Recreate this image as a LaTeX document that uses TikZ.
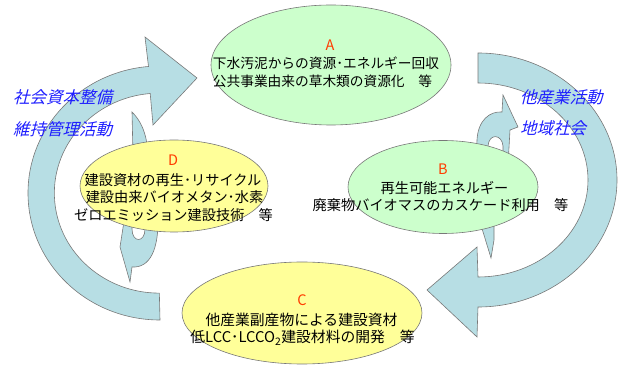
\documentclass[tikz,border=0pt]{standalone}
\usepackage{fontspec}
\setmainfont{Noto Sans CJK JP}
\newfontfamily\slantjp[FakeSlant=0.25]{Noto Sans CJK JP}
\usetikzlibrary{shapes.geometric}
\definecolor{arrowfill}{RGB}{183,222,228}
\definecolor{edgegray}{RGB}{120,120,120}
\definecolor{greenfill}{RGB}{204,255,204}
\definecolor{yellowfill}{RGB}{255,255,153}
\definecolor{letterred}{RGB}{255,60,0}
\definecolor{textblue}{RGB}{30,30,255}
\begin{document}
\begin{tikzpicture}[x=1pt,y=-1pt,
  bigarrow/.style={fill=arrowfill, draw=edgegray, line width=0.6pt, line join=miter},
  oval/.style={ellipse, draw=edgegray, line width=0.6pt, inner sep=0pt},
  jtext/.style={anchor=base, inner sep=0pt, font=\fontsize{14}{14}\selectfont},
  letter/.style={anchor=base, inner sep=0pt, text=letterred, font=\fontsize{14.5}{14.5}\selectfont},
  bluetext/.style={anchor=base west, inner sep=0pt, text=textblue, font=\slantjp\fontsize{16.5}{16.5}\selectfont}]
\useasboundingbox (0,0) rectangle (622,379);

% big circular arrows
\draw[bigarrow] (160,320) arc[start angle=270, end angle=95, x radius=132pt, y radius=127pt]
  -- (145,37) -- (197,78) -- (153,125) -- (150.2,93.5)
  arc[start angle=95, end angle=270, x radius=105pt, y radius=100pt] -- cycle;
\draw[bigarrow] (478,83) -- (478,53) arc[start angle=90, end angle=-90, x radius=139pt, y radius=127pt]
  -- (477,337) -- (427,290) -- (477,247) -- (478,277)
  arc[start angle=-90, end angle=90, x radius=110pt, y radius=97pt] -- cycle;

% small arrows behind B
\draw[bigarrow] (476,165) -- (477,140) .. controls (478,120) and (490,111) .. (502,112)
  -- (503,95) -- (518,127) -- (510,130) -- (508,165) -- (503,165) -- (503,146)
  .. controls (502,134) and (489,133) .. (488,146) -- (488,165) -- cycle;
\draw[bigarrow] (480,222) -- (491,258) -- (494,240) -- (494,222) -- cycle;

% small arrows behind D
\draw[bigarrow] (133,155) -- (132,112) .. controls (140,120) and (147,132) .. (148,155) -- cycle;
\draw[bigarrow] (125,215) -- (120,247) -- (130,282) -- (132,267)
  .. controls (150,268) and (159,250) .. (158,215) -- (145,215) -- (145,229)
  .. controls (145,243) and (132,243) .. (132,229) -- (132,215) -- cycle;

% ellipses
\node[oval, fill=greenfill, minimum width=240pt, minimum height=120pt] (ellA) at (331,65) {};
\node[oval, fill=greenfill, minimum width=190pt, minimum height=93pt] (ellB) at (443,187) {};
\node[oval, fill=yellowfill, minimum width=240pt, minimum height=102pt] (ellC) at (302,313) {};
\node[oval, fill=yellowfill, minimum width=188pt, minimum height=92pt] (ellD) at (174,186) {};

% A
\node[letter] (labA) at (330,50.5) {A};
\node[jtext, font=\fontsize{13.7}{13.7}\selectfont] (a1) at (326,69) {下水汚泥からの資源･エネルギー回収};
\node[jtext, font=\fontsize{13.7}{13.7}\selectfont] (a2) at (322.5,87) {公共事業由来の草木類の資源化　等};
% B
\node[letter] (labB) at (443,174.5) {B};
\node[jtext, font=\fontsize{14.2}{14.2}\selectfont] (b1) at (444.5,194) {再生可能エネルギー};
\node[jtext, font=\fontsize{14.2}{14.2}\selectfont] (b2) at (440.5,211) {廃棄物バイオマスのカスケード利用　等};
% C
\node[letter] (labC) at (302,305.5) {C};
\node[jtext, font=\fontsize{14.8}{14.8}\selectfont] (c1) at (301.5,326) {他産業副産物による建設資材};
\node[jtext, font=\fontsize{14.8}{14.8}\selectfont] (c2) at (302.5,343) {低LCC･LCCO\textsubscript{2}建設材料の開発　等};
% D
\node[letter] (labD) at (173,165.5) {D};
\node[jtext, font=\fontsize{14.2}{14.2}\selectfont] (d1) at (173,186) {建設資材の再生･リサイクル};
\node[jtext, font=\fontsize{14.2}{14.2}\selectfont] (d2) at (174.5,203) {建設由来バイオメタン･水素};
\node[jtext, font=\fontsize{14.2}{14.2}\selectfont] (d3) at (173.5,221) {ゼロエミッション建設技術　等};

% blue labels
\node[bluetext] (s1) at (13,104) {社会資本整備};
\node[bluetext] (s2) at (13,136) {維持管理活動};
\node[bluetext] (r1) at (520,104) {他産業活動};
\node[bluetext] (r2) at (520,135) {地域社会};
\end{tikzpicture}
\end{document}
